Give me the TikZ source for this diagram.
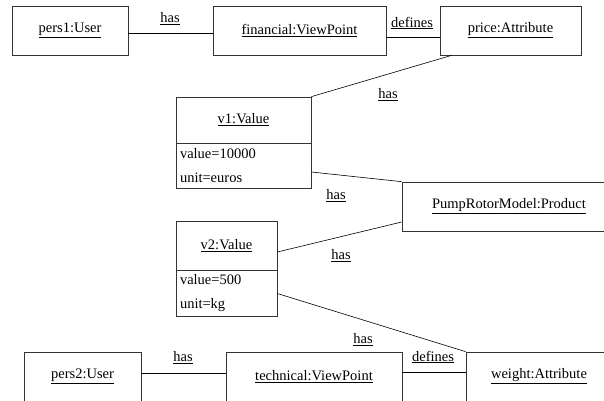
\documentclass[tikz,border=0pt]{standalone}
\usepackage{fontspec}
\setmainfont{Liberation Serif}
\tikzset{
  obj/.style={draw=black!80, line width=0.7pt, minimum height=49pt, inner sep=0pt},
  attrbox/.style={draw=black!80, line width=0.7pt, inner xsep=4pt, inner ysep=0pt, align=left},
  lbl/.style={inner sep=1pt},
  link/.style={line width=0.6pt}
}
\newcommand{\ul}[1]{\underline{#1}}
\begin{document}
\begin{tikzpicture}[x=1pt,y=-1pt,font=\fontsize{14.5}{24}\selectfont]
\useasboundingbox (0,0) rectangle (604,400);
% objects
\node[obj, minimum width=116pt] (pers1) at (70,30.5) {\ul{pers1:User}};
\node[obj, minimum width=173pt] (fin) at (299.5,30.5) {\ul{financial:ViewPoint}};
\node[obj, minimum width=141pt] (price) at (510.5,30.5) {\ul{price:Attribute}};
\node[obj, minimum width=135pt, minimum height=46pt] (v1) at (243.5,120) {\ul{v1:Value}};
\node[attrbox, text width=127pt, minimum height=45pt] (v1attr) at (243.5,165.5) {value=10000\\unit=euros};
\node[obj, minimum width=214pt] (pump) at (509,206.5) {\ul{PumpRotorModel:Product}};
\node[obj, minimum width=101pt] (v2) at (226.5,245.5) {\ul{v2:Value}};
\node[attrbox, text width=93pt, minimum height=46pt] (v2attr) at (226.5,293.5) {value=500\\unit=kg};
\node[obj, minimum width=117pt] (pers2) at (82.5,376.5) {\ul{pers2:User}};
\node[obj, minimum width=176pt] (tech) at (314,376.5) {\ul{technical:ViewPoint}};
\node[obj, minimum width=146pt] (weight) at (539,376.5) {\ul{weight:Attribute}};
% links
\draw[link] ([yshift=-2.5pt]pers1.east) -- ([yshift=-2.5pt]fin.west);
\draw[link] ([yshift=-6.5pt]fin.east) -- ([yshift=-6.5pt]price.west);
\draw[link] ([xshift=12pt]price.south west) -- (v1.north east);
\draw[link] ([yshift=-6.5pt]v1attr.east) -- (pump.north west);
\draw[link] ([yshift=-15.5pt]pump.west) -- ([yshift=-6.5pt]v2.east);
\draw[link] (v2attr.east) -- (weight.north west);
\draw[link] ([yshift=3.5pt]pers2.east) -- ([yshift=3.5pt]tech.west);
\draw[link] ([yshift=4.5pt]tech.east) -- ([yshift=4.5pt]weight.west);
% labels
\node[lbl] (l1) at (170,19) {\ul{has}};
\node[lbl] (l2) at (412,23) {\ul{defines}};
\node[lbl] (l3) at (388,95) {\ul{has}};
\node[lbl] (l4) at (336,196) {\ul{has}};
\node[lbl] (l5) at (341,256) {\ul{has}};
\node[lbl] (l6) at (363,340) {\ul{has}};
\node[lbl] (l7) at (183,358) {\ul{has}};
\node[lbl] (l8) at (433,357) {\ul{defines}};
\end{tikzpicture}
\end{document}
